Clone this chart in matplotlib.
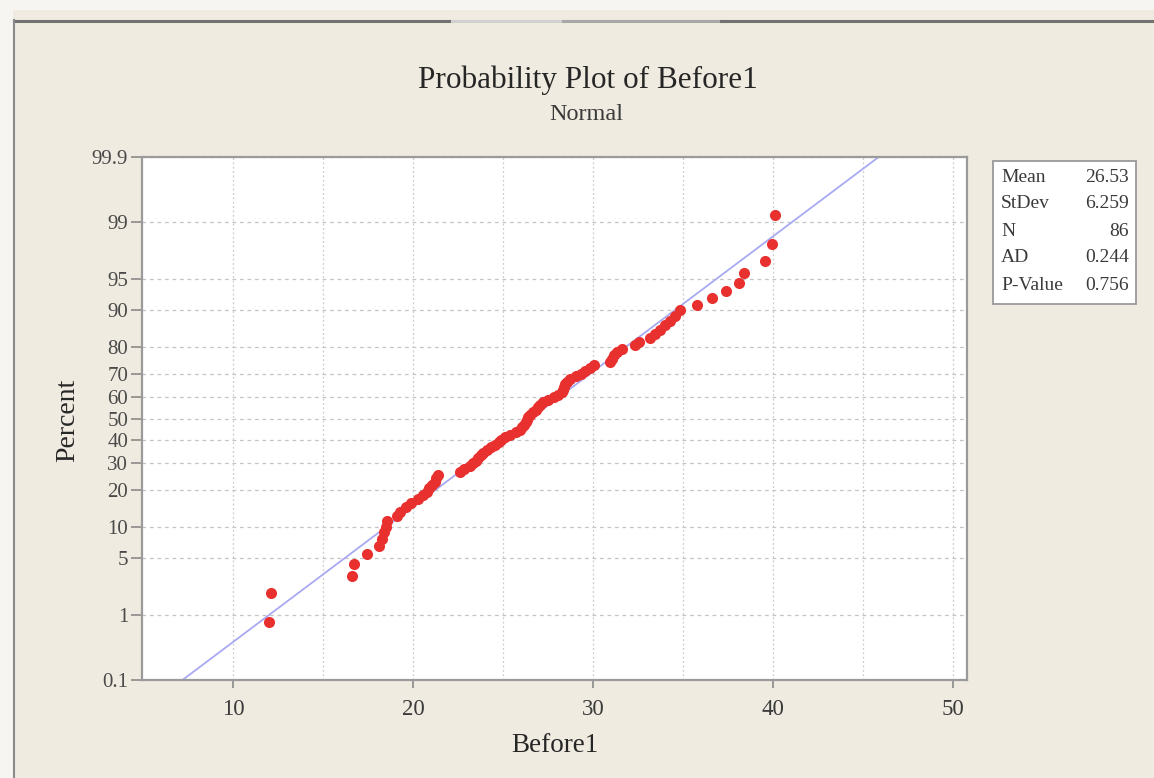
import matplotlib
matplotlib.use('Agg')
import matplotlib.pyplot as plt
from matplotlib.patches import Rectangle
from matplotlib.lines import Line2D
from matplotlib.ticker import FixedLocator
from statistics import NormalDist
import numpy as np

# ---------------- data ----------------
before1 = [12.0, 12.1, 16.59, 16.72, 17.43, 18.13, 18.26, 18.39, 18.5, 18.58,
           19.09, 19.28, 19.6, 19.9, 20.25, 20.57, 20.76, 20.9, 21.08, 21.2,
           21.3, 21.4, 22.61, 22.83, 23.17, 23.33, 23.5, 23.61, 23.75, 23.89,
           24.11, 24.33, 24.56, 24.75, 24.89, 25.11, 25.39, 25.72, 25.94, 26.06,
           26.17, 26.25, 26.31, 26.39, 26.5, 26.67, 26.81, 26.94, 27.06, 27.22,
           27.5, 27.83, 28.06, 28.25, 28.33, 28.39, 28.44, 28.56, 28.72, 29.06,
           29.33, 29.56, 29.83, 30.08, 30.94, 31.06, 31.19, 31.31, 31.61, 32.33,
           32.53, 33.17, 33.44, 33.72, 34.0, 34.28, 34.56, 34.81, 35.76, 36.63,
           37.39, 38.09, 38.39, 39.57, 39.96, 40.13]
percent_ticks = [0.1, 1, 5, 10, 20, 30, 40, 50, 60, 70, 80, 90, 95, 99, 99.9]
percent_labels = ["0.1", "1", "5", "10", "20", "30", "40", "50", "60", "70",
                  "80", "90", "95", "99", "99.9"]
x_ticks = [10, 20, 30, 40, 50]
x_grid = [15, 25, 35, 45]
stat_names = ["Mean", "StDev", "N", "AD", "P-Value"]
stat_values = ["26.53", "6.259", "86", "0.244", "0.756"]
fit_mean = 26.53
fit_sd = 6.259

title_text = "Probability Plot of Before1"
subtitle_text = "Normal"
xlabel_text = "Before1"
ylabel_text = "Percent"

# ---------------- figure ----------------
W, H = 1154, 778
BG = '#f0ebe0'
SERIF = ['Liberation Serif', 'DejaVu Serif']
fig = plt.figure(figsize=(W / 100, H / 100), dpi=100, facecolor=BG)


def fx(px):
    return px / W


def fy(py):
    return 1 - py / H


# window decorations
fig.patches.append(Rectangle((0, fy(10)), 1, 10 / H, transform=fig.transFigure,
                             facecolor='#f6f5f1', edgecolor='none', zorder=0))
fig.patches.append(Rectangle((0, 0), 13 / W, 1, transform=fig.transFigure,
                             facecolor='#f6f5f1', edgecolor='none', zorder=0))
for x0, x1, c in [(14, 452, '#727272'), (452, 563, '#d0d0d0'),
                  (563, 721, '#a8a8a8'), (721, W, '#727272')]:
    fig.lines.append(Line2D([fx(x0), fx(x1)], [fy(21), fy(21)],
                            transform=fig.transFigure, color=c, lw=2.2))
fig.lines.append(Line2D([fx(14), fx(14)], [fy(20), 0], transform=fig.transFigure,
                        color='#8a8a8a', lw=1.5))

nd = NormalDist()
n = len(before1)
xs = np.sort(np.array(before1))
zs = np.array([nd.inv_cdf((i - 0.3) / (n + 0.4)) for i in range(1, n + 1)])
zlim = nd.inv_cdf(0.999)

ax = fig.add_axes([fx(142), fy(680), (967 - 142) / W, (680 - 157) / H])
ax.set_facecolor('white')
ax.set_xlim(4.94, 50.78)
ax.set_ylim(-zlim, zlim)

# fitted line
zline = np.array([-zlim, zlim])
ax.plot(fit_mean + fit_sd * zline, zline, color='#a9a9f3', lw=1.3, zorder=2)
# points
ax.scatter(xs, zs, s=64, color='#e8312f', zorder=3, linewidths=0)

# ticks
ax.set_xticks(x_ticks)
ax.set_xticklabels([str(t) for t in x_ticks])
ax.xaxis.set_minor_locator(FixedLocator(x_grid))
ytick_pos = [nd.inv_cdf(p / 100) for p in percent_ticks]
ax.set_yticks(ytick_pos)
ax.set_yticklabels(percent_labels)

ax.tick_params(axis='x', which='major', length=6, width=1.2, color='#8a8a8a',
               pad=8, labelsize=16.5, labelcolor='#3a3a3a')
ax.tick_params(axis='x', which='minor', length=0)
ax.tick_params(axis='y', length=8, width=1.2, color='#8a8a8a', pad=2,
               labelsize=15, labelcolor='#4a4a4a')
for lab in ax.get_xticklabels() + ax.get_yticklabels():
    lab.set_family(SERIF)

# grid
ax.grid(True, axis='x', which='both', color='#cccccc', lw=0.9, ls=(0, (1.5, 2)))
ax.grid(True, axis='y', which='major', color='#c4c4c4', lw=0.9, ls=(0, (3, 3)))
ax.set_axisbelow(True)

for sp in ax.spines.values():
    sp.set_color('#9a9a9a')
    sp.set_linewidth(1.6)

# titles / labels
fig.text(fx(588), fy(80), title_text, ha='center', va='center', fontsize=22.5,
         family=SERIF, color='#262626')
fig.text(fx(586), fy(114), subtitle_text, ha='center', va='center', fontsize=17.5,
         family=SERIF, color='#3a3a3a')
fig.text(fx(555), fy(745), xlabel_text, ha='center', va='center', fontsize=19.5,
         family=SERIF, color='#262626')
fig.text(fx(68), fy(420), ylabel_text, ha='center', va='center', fontsize=20,
         family=SERIF, color='#262626', rotation=90)

# stats box
fig.patches.append(Rectangle((fx(993), fy(304)), (1136 - 993) / W, (304 - 161) / H,
                             transform=fig.transFigure, facecolor='white',
                             edgecolor='#9a9a9a', lw=1.3, zorder=1))
row_y = [177, 204, 231, 258, 286]
for name, val, yy in zip(stat_names, stat_values, row_y):
    fig.text(fx(1001), fy(yy), name, ha='left', va='center', fontsize=14,
             family=SERIF, color='#3a3a3a', zorder=2)
    fig.text(fx(1129), fy(yy), val, ha='right', va='center', fontsize=14,
             family=SERIF, color='#3a3a3a', zorder=2)

fig.savefig('out.png', dpi=100, facecolor=BG)
